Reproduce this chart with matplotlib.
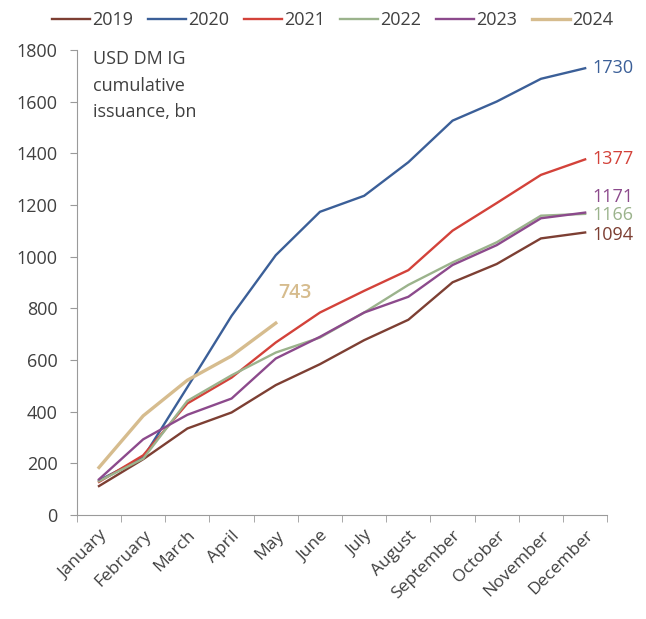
import numpy as np
import matplotlib.pyplot as plt

months = ["January", "February", "March", "April", "May", "June", "July",
          "August", "September", "October", "November", "December"]

# cumulative issuance by month, USD bn
y2019 = [112, 216, 335, 397, 503, 584, 677, 756, 901, 972, 1071, 1094]
y2020 = [134, 222, 495, 771, 1006, 1174, 1236, 1366, 1527, 1601, 1689, 1730]
y2021 = [128, 231, 432, 532, 668, 784, 868, 948, 1101, 1208, 1317, 1377]
y2022 = [131, 218, 442, 541, 629, 687, 784, 891, 978, 1056, 1159, 1166]
y2023 = [138, 293, 388, 451, 606, 690, 784, 845, 968, 1045, 1149, 1171]
y2024 = [184, 384, 522, 616, 743]

series = [
    ("2019", y2019, "#7d3f33", 1.7),
    ("2020", y2020, "#3b5f98", 1.7),
    ("2021", y2021, "#d3423a", 1.7),
    ("2022", y2022, "#9bb38c", 1.7),
    ("2023", y2023, "#8c4a8c", 1.7),
    ("2024", y2024, "#d6bc8e", 2.4),
]

plt.rcParams['font.family'] = ['Open Sans', 'DejaVu Sans']
txt = "#404040"

fig = plt.figure(figsize=(6.46, 6.19), dpi=100)
ax = fig.add_axes([0.119, 0.168, 0.821, 0.751])

x = np.arange(len(months))
for name, vals, col, lw in series:
    ax.plot(x[:len(vals)], vals, color=col, lw=lw, label=name,
            solid_joinstyle='miter')

# end-of-line value labels
ends = [("1730", y2020, "#3b5f98", 0), ("1377", y2021, "#d3423a", 0),
        ("1171", y2023, "#8c4a8c", 11), ("1166", y2022, "#9bb38c", -1),
        ("1094", y2019, "#7d3f33", -2)]
for lab, vals, col, dy in ends:
    ax.annotate(lab, (x[len(vals) - 1], vals[-1]), xytext=(5, dy),
                textcoords='offset points', color=col, fontsize=13,
                va='center', ha='left', annotation_clip=False)
ax.annotate("743", (x[4], y2024[-1]), xytext=(2, 22), textcoords='offset points',
            color="#d6bc8e", fontsize=14, fontweight='semibold', va='center', ha='left')

ax.text(0.03, 1.0, "USD DM IG\ncumulative\nissuance, bn", transform=ax.transAxes,
        va='top', ha='left', fontsize=13, color=txt, linespacing=1.6)

ax.set_xlim(-0.5, 11.5)
ax.set_ylim(0, 1800)
ax.set_yticks(np.arange(0, 1801, 200))
ax.set_xticks(x)
ax.set_xticklabels(months, rotation=45, ha='right', rotation_mode='anchor')
ax.set_xticks(np.arange(-0.5, 12, 1), minor=True)
ax.tick_params(axis='x', which='major', length=0, pad=9, labelsize=12.5, labelcolor=txt)
ax.tick_params(axis='x', which='minor', length=5, color='#9a9a9a')
ax.tick_params(axis='y', length=5, color='#9a9a9a', labelsize=13, labelcolor=txt, pad=9)

for s in ['top', 'right']:
    ax.spines[s].set_visible(False)
for s in ['left', 'bottom']:
    ax.spines[s].set_color('#9a9a9a')

fig.legend(loc='upper center', bbox_to_anchor=(0.515, 1.008), ncol=6, frameon=False,
           fontsize=13, handlelength=2.1, handletextpad=0.15, columnspacing=0.8,
           labelcolor=txt)

fig.savefig("out.png", dpi=100)
